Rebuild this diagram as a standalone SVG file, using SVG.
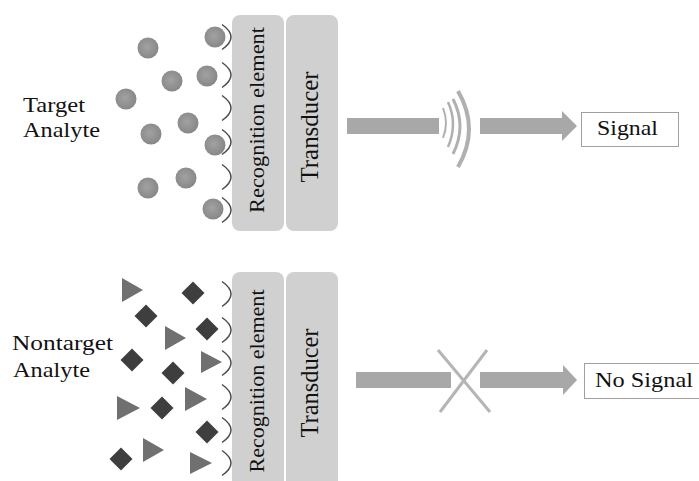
<svg xmlns="http://www.w3.org/2000/svg" width="699" height="481" viewBox="0 0 699 481">
<style>
.lbl{font-family:"Liberation Serif","Times New Roman",serif;fill:#111;}
.box{fill:#d0d0d0;}
.rec{fill:none;stroke:#4a4a4a;stroke-width:1.5;}
.tri{fill:#707070;}
.dia{fill:#3e3e3e;}
.bar{fill:#a8a8a8;}
.wave{fill:none;stroke:#b0b0b0;}
.out{fill:#fff;stroke:#a0a0a0;stroke-width:1;}
</style>
<defs>
<radialGradient id="ball" cx="0.45" cy="0.45" r="0.6">
<stop offset="0" stop-color="#a2a2a2"/>
<stop offset="1" stop-color="#858585"/>
</radialGradient>
<path id="d" d="M0,-11.5 L11.5,0 L0,11.5 L-11.5,0 Z"/>
<path id="arc" d="M222,-12.5 Q240,0 222,12.5"/>
</defs>
<rect width="699" height="481" fill="#fff"/>

<g id="label-target">
<text class="lbl" x="23" y="112" font-size="22" textLength="62" lengthAdjust="spacingAndGlyphs">Target</text>
<text class="lbl" x="23" y="137" font-size="22" textLength="77" lengthAdjust="spacingAndGlyphs">Analyte</text>
</g>
<g id="label-nontarget">
<text class="lbl" x="12" y="350" font-size="22" textLength="101" lengthAdjust="spacingAndGlyphs">Nontarget</text>
<text class="lbl" x="13" y="377" font-size="22" textLength="77" lengthAdjust="spacingAndGlyphs">Analyte</text>
</g>

<g id="target-particles">
<circle cx="215" cy="37" r="10.5" fill="url(#ball)"/>
<circle cx="148" cy="48" r="10.5" fill="url(#ball)"/>
<circle cx="172" cy="81" r="10.5" fill="url(#ball)"/>
<circle cx="207" cy="76" r="10.5" fill="url(#ball)"/>
<circle cx="126" cy="99" r="10.5" fill="url(#ball)"/>
<circle cx="188" cy="123" r="10.5" fill="url(#ball)"/>
<circle cx="151" cy="134" r="10.5" fill="url(#ball)"/>
<circle cx="215" cy="145" r="10.5" fill="url(#ball)"/>
<circle cx="186" cy="178" r="10.5" fill="url(#ball)"/>
<circle cx="148" cy="188" r="10.5" fill="url(#ball)"/>
<circle cx="213" cy="209" r="10.5" fill="url(#ball)"/>
</g>

<g id="nontarget-particles">
<path class="tri" d="M122,278 L143,290 L122,302 Z"/>
<path class="tri" d="M165,326 L186,338 L165,350 Z"/>
<path class="tri" d="M201,351 L222,362 L201,373 Z"/>
<path class="tri" d="M117,396 L140,408 L117,420 Z"/>
<path class="tri" d="M185,387 L207,399 L185,411 Z"/>
<path class="tri" d="M143,438 L164,450 L143,462 Z"/>
<path class="tri" d="M190,452 L212,463 L190,474 Z"/>
<use href="#d" class="dia" x="193" y="293"/>
<use href="#d" class="dia" x="146" y="316"/>
<use href="#d" class="dia" x="207" y="329"/>
<use href="#d" class="dia" x="132" y="360"/>
<use href="#d" class="dia" x="173" y="373"/>
<use href="#d" class="dia" x="162" y="408"/>
<use href="#d" class="dia" x="207" y="432"/>
<use href="#d" class="dia" x="121" y="459"/>
</g>

<g id="recognition-top">
<rect class="box" x="232" y="15" width="52" height="216" rx="8"/>
<use href="#arc" class="rec" y="37"/>
<use href="#arc" class="rec" y="75"/>
<use href="#arc" class="rec" y="108"/>
<use href="#arc" class="rec" y="142"/>
<use href="#arc" class="rec" y="177"/>
<use href="#arc" class="rec" y="210"/>
<text class="lbl" transform="translate(264,120) rotate(-90)" text-anchor="middle" font-size="22" textLength="186" lengthAdjust="spacingAndGlyphs">Recognition element</text>
</g>
<g id="transducer-top">
<rect class="box" x="286" y="15" width="52" height="216" rx="8"/>
<text class="lbl" transform="translate(318,127) rotate(-90)" text-anchor="middle" font-size="25" textLength="111" lengthAdjust="spacingAndGlyphs">Transducer</text>
</g>

<g id="recognition-bottom">
<rect class="box" x="232" y="272" width="52" height="230" rx="8"/>
<use href="#arc" class="rec" y="294"/>
<use href="#arc" class="rec" y="330"/>
<use href="#arc" class="rec" y="363"/>
<use href="#arc" class="rec" y="397"/>
<use href="#arc" class="rec" y="430"/>
<use href="#arc" class="rec" y="463"/>
<text class="lbl" transform="translate(264,381) rotate(-90)" text-anchor="middle" font-size="22" textLength="183" lengthAdjust="spacingAndGlyphs">Recognition element</text>
</g>
<g id="transducer-bottom">
<rect class="box" x="286" y="272" width="52" height="230" rx="8"/>
<text class="lbl" transform="translate(318,383) rotate(-90)" text-anchor="middle" font-size="25" textLength="109" lengthAdjust="spacingAndGlyphs">Transducer</text>
</g>

<g id="signal">
<rect class="out" x="581.5" y="112.5" width="97" height="34"/>
<text class="lbl" x="597" y="135" font-size="22" textLength="61" lengthAdjust="spacingAndGlyphs">Signal</text>
</g>
<g id="no-signal">
<rect class="out" x="584.5" y="363.5" width="120" height="35"/>
<text class="lbl" x="595" y="387" font-size="22" textLength="98" lengthAdjust="spacingAndGlyphs">No Signal</text>
</g>

<g id="connectors">
<rect class="bar" x="347" y="118" width="92" height="16"/>
<path class="wave" stroke-width="2" d="M443,108 Q449,123 443,138"/>
<path class="wave" stroke-width="2.5" d="M448,102 Q458,124 448,147"/>
<path class="wave" stroke-width="3" d="M453,99 Q467,126 453,154"/>
<path class="wave" stroke-width="4" d="M458,91 Q480,129 458,167"/>
<path class="bar" d="M480,118 L562,118 L562,111 L577,126 L562,141 L562,134 L480,134 Z"/>

<rect class="bar" x="356" y="372" width="95" height="16"/>
<line x1="438" y1="350" x2="490" y2="412" stroke="#b5b5b5" stroke-width="3"/>
<line x1="487" y1="350" x2="440" y2="412" stroke="#b5b5b5" stroke-width="3"/>
<path class="bar" d="M480,372 L563,372 L563,365 L577,380 L563,395 L563,388 L480,388 Z"/>
</g>
</svg>
